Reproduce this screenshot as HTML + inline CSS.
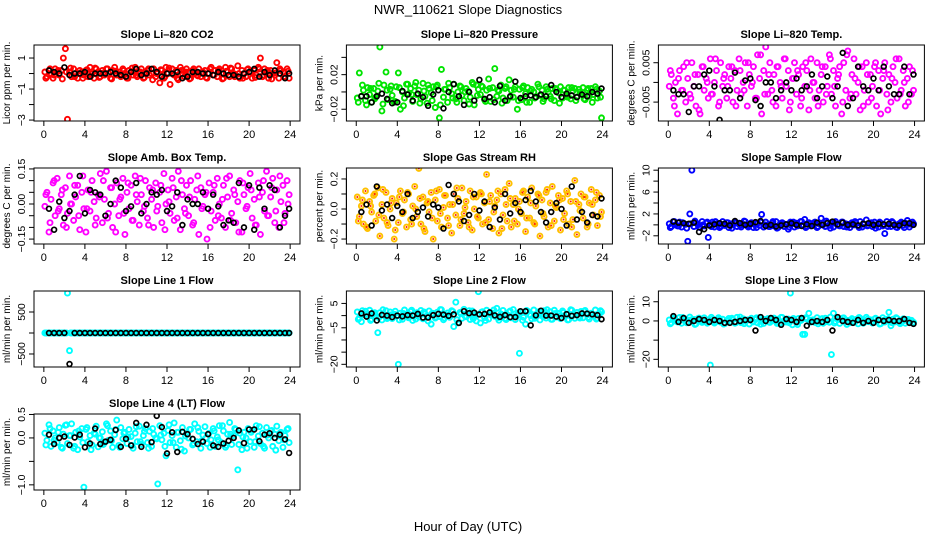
<!DOCTYPE html>
<html><head><meta charset="utf-8"><style>
html,body{margin:0;padding:0;background:#fff}
svg{display:block;font-family:"Liberation Sans",sans-serif}
</style></head><body>
<svg id="c" width="936" height="540" viewBox="0 0 936 540">
<text x="468" y="14" text-anchor="middle" font-size="13">NWR_110621  Slope Diagnostics</text>
<text x="468" y="531" text-anchor="middle" font-size="13">Hour of Day (UTC)</text>
</svg>
<script>
const hours=[0.1,0.3,0.5,0.7,0.9,1.1,1.3,1.5,1.7,1.9,2.1,2.3,2.5,2.7,2.9,3.1,3.3,3.5,3.7,3.9,4.1,4.3,4.5,4.7,4.9,5.1,5.3,5.5,5.7,5.9,6.1,6.3,6.5,6.7,6.9,7.1,7.3,7.5,7.7,7.9,8.1,8.3,8.5,8.7,8.9,9.1,9.3,9.5,9.7,9.9,10.1,10.3,10.5,10.7,10.9,11.1,11.3,11.5,11.7,11.9,12.1,12.3,12.5,12.7,12.9,13.1,13.3,13.5,13.7,13.9,14.1,14.3,14.5,14.7,14.9,15.1,15.3,15.5,15.7,15.9,16.1,16.3,16.5,16.7,16.9,17.1,17.3,17.5,17.7,17.9,18.1,18.3,18.5,18.7,18.9,19.1,19.3,19.5,19.7,19.9,20.1,20.3,20.5,20.7,20.9,21.1,21.3,21.5,21.7,21.9,22.1,22.3,22.5,22.7,22.9,23.1,23.3,23.5,23.7,23.9];
const hours2=[0.2,0.6,1.0,1.4,1.8,2.2,2.6,3.0,3.4,3.8,4.2,4.6,5.0,5.4,5.8,6.2,6.6,7.0,7.4,7.8,8.2,8.6,9.0,9.4,9.8,10.2,10.6,11.0,11.4,11.8,12.2,12.6,13.0,13.4,13.8,14.2,14.6,15.0,15.4,15.8,16.2,16.6,17.0,17.4,17.8,18.2,18.6,19.0,19.4,19.8,20.2,20.6,21.0,21.4,21.8,22.2,22.6,23.0,23.4,23.8];
const blackHours=[0.5,1.0,1.5,2.0,2.5,3.0,3.5,4.0,4.5,5.0,5.5,6.0,6.5,7.0,7.5,8.0,8.5,9.0,9.5,10.0,10.5,11.0,11.5,12.0,12.5,13.0,13.5,14.0,14.5,15.0,15.5,16.0,16.5,17.0,17.5,18.0,18.5,19.0,19.5,20.0,20.5,21.0,21.5,22.0,22.5,23.0,23.5,23.9];
const xTicks=[0,4,8,12,16,20,24];

const co2=[0.1,-0.2,0.2,0.0,-0.3,0.3,0.1,-0.1,0.2,1.0,1.6,-2.95,0.1,-0.2,0.3,0.0,-0.3,0.2,0.1,-0.1,0.2,-0.2,0.4,0.0,-0.3,0.3,0.1,-0.2,0.2,-0.1,0.3,0.0,-0.3,0.2,0.4,-0.1,0.1,-0.2,0.3,0.0,-0.3,0.2,0.1,-0.1,0.4,-0.2,0.0,0.3,-0.3,0.1,0.2,-0.1,0.0,0.3,-0.2,0.1,-0.6,0.2,-0.3,0.4,0.0,-0.7,0.3,-0.1,0.2,-0.4,0.4,0.0,-0.2,0.3,0.1,-0.3,0.2,0.0,-0.1,0.3,-0.2,0.1,0.2,-0.3,0.0,0.4,-0.1,0.2,-0.2,0.3,0.0,-0.3,0.4,0.1,-0.2,0.3,0.0,-0.1,0.5,-0.3,0.2,0.0,-0.2,0.3,0.1,-0.3,0.2,-0.1,0.4,1.0,-0.2,0.3,0.1,-0.3,0.2,0.0,-0.1,0.7,-0.3,0.2,0.1,-0.2,0.3,-0.3];
const co2b=[-0.3,0.3,-0.1,0.2,-0.35,0.1,0.35,-0.2,0.0,-0.3,0.25,-0.15,0.35,-0.25,0.05,0.3,-0.35,0.15,-0.05,0.2,-0.3,0.35,-0.1,0.1,-0.25,0.3,-0.4,0.0,0.25,-0.2,0.35,-0.05,-0.3,0.2,0.1,-0.35,0.3,-0.15,0.05,-0.25,0.3,-0.1,0.2,-0.35,0.15,0.35,-0.2,0.0,-0.3,0.25,0.1,-0.25,0.3,-0.1,0.2,-0.35,0.05,0.3,-0.2,0.15];
const co2Black=[0.2,0.1,0.0,0.4,-0.1,0.0,0.0,0.1,-0.2,0.0,0.0,0.0,0.1,0.0,-0.1,-0.2,0.1,0.3,-0.1,0.0,0.3,0.1,-0.2,0.0,0.0,0.1,-0.3,-0.2,0.1,0.1,0.0,0.0,-0.1,0.1,0.0,-0.1,-0.1,-0.2,0.0,0.1,0.3,-0.2,0.1,-0.1,0.2,0.0,-0.3,0.0];
const pres=[-0.007,0.022,-0.005,0.002,-0.01,0.005,-0.003,-0.012,0.004,-0.006,0.001,0.052,-0.022,0.008,0.023,-0.009,0.003,-0.004,-0.012,0.006,0.022,-0.02,0.0,-0.007,0.009,-0.002,0.004,-0.011,0.007,-0.003,0.002,-0.008,0.01,-0.005,-0.013,0.004,-0.001,0.006,-0.018,0.008,-0.03,0.026,-0.006,0.003,-0.012,0.005,-0.002,0.009,-0.008,0.0,0.007,-0.004,-0.01,0.004,0.001,-0.006,0.011,-0.015,0.008,0.003,-0.003,0.006,-0.009,0.002,0.015,-0.011,0.005,0.027,-0.005,0.001,0.008,-0.007,0.004,-0.01,0.014,0.002,-0.006,0.006,-0.02,0.003,-0.009,0.007,-0.002,0.005,-0.012,0.003,0.0,-0.006,0.009,-0.004,0.002,-0.008,0.006,0.0,-0.005,0.004,-0.01,0.003,-0.001,0.006,-0.007,0.002,-0.004,0.005,-0.008,0.001,0.004,-0.006,0.003,-0.002,0.005,-0.009,0.002,-0.005,0.004,-0.003,0.006,-0.007,0.001,-0.03];
const presb=[-0.012,0.008,-0.015,0.004,-0.008,0.01,-0.014,0.002,0.007,-0.011,0.005,-0.016,0.009,-0.003,0.011,-0.013,0.001,0.008,-0.01,0.006,-0.015,0.003,0.01,-0.007,-0.012,0.006,0.0,-0.014,0.009,-0.004,0.007,-0.011,0.004,-0.009,0.002,-0.013,0.006,-0.006,0.003,-0.01,0.005,-0.012,0.001,-0.007,0.006,-0.011,0.003,-0.008,0.004,-0.013,0.002,-0.006,0.005,-0.01,0.0,-0.008,0.004,-0.012,0.003,-0.006];
const presBlack=[-0.005,-0.005,-0.012,-0.005,-0.002,-0.008,-0.013,-0.012,0.001,-0.003,-0.01,-0.002,-0.006,-0.016,-0.003,0.002,-0.019,0.0,0.009,-0.005,-0.015,0.0,-0.01,0.014,-0.008,-0.006,-0.012,0.007,-0.01,-0.005,0.012,-0.007,-0.005,-0.004,-0.006,-0.003,-0.005,0.008,0.0,-0.006,-0.002,-0.004,-0.006,-0.003,-0.005,0.0,-0.002,0.004];
const ltemp=[-0.001,0.002,-0.004,0.0,-0.008,0.003,-0.002,0.004,-0.005,0.001,-0.003,0.005,-0.001,-0.006,0.002,-0.008,0.004,-0.002,0.001,-0.004,0.006,-0.003,0.0,0.003,-0.006,0.005,-0.001,0.002,-0.004,0.004,0.001,-0.005,0.003,-0.002,0.006,-0.003,0.0,0.005,-0.006,0.002,-0.001,0.004,-0.004,0.007,0.001,-0.008,0.003,0.009,-0.003,0.005,-0.002,0.002,-0.006,0.004,0.0,-0.004,0.006,-0.001,0.003,-0.005,0.001,0.005,-0.003,0.002,-0.006,0.004,-0.001,0.003,-0.007,0.006,0.0,-0.004,0.005,-0.002,0.002,-0.005,0.004,-0.001,0.007,-0.003,0.003,-0.006,0.001,0.004,-0.008,0.005,-0.002,0.008,-0.004,0.002,0.006,-0.003,0.0,-0.007,0.004,-0.002,0.005,-0.005,0.002,-0.001,0.004,-0.006,0.003,-0.008,0.001,0.005,-0.003,0.002,-0.005,0.004,0.0,-0.004,0.006,-0.002,0.003,-0.006,0.001,0.004,-0.003,-0.002];
const ltempb=[0.003,-0.006,0.001,-0.002,0.005,-0.004,0.002,-0.007,0.004,0.0,-0.003,0.006,-0.005,0.001,-0.001,0.004,-0.006,0.003,-0.002,0.005,0.0,-0.004,0.007,-0.003,0.002,-0.005,0.004,-0.001,0.006,-0.007,0.001,0.003,-0.004,0.005,-0.002,0.0,-0.006,0.004,-0.003,0.006,-0.001,0.002,-0.005,0.007,-0.003,0.001,0.004,-0.006,0.002,-0.004,0.005,-0.002,0.003,-0.007,0.001,0.006,-0.003,0.0,-0.005,0.003];
const ltempBlack=[-0.002,-0.003,-0.003,-0.0075,-0.001,-0.001,0.002,0.003,-0.001,-0.0095,-0.002,-0.002,0.0025,-0.004,0.0005,0.001,-0.0045,-0.006,0.0,0.0,-0.004,-0.002,0.0,-0.002,0.001,-0.002,-0.001,0.002,-0.004,-0.001,0.0015,-0.004,-0.001,0.0075,-0.006,-0.004,0.004,-0.001,-0.002,0.001,-0.002,0.004,-0.001,-0.003,-0.003,0.004,-0.003,0.002];
const amb=[-0.01,0.05,-0.12,0.02,0.09,-0.05,0.11,-0.02,0.04,-0.09,0.07,-0.04,0.12,0.0,-0.07,0.03,0.08,-0.11,0.05,-0.02,-0.12,0.06,-0.03,0.1,0.01,-0.06,0.04,0.13,-0.08,0.02,0.14,-0.04,0.07,-0.1,0.0,0.09,-0.05,0.03,0.11,-0.13,0.05,-0.02,0.08,-0.07,0.12,0.01,-0.09,0.04,-0.03,0.1,-0.06,0.07,0.02,-0.1,0.09,-0.01,0.05,-0.08,0.13,0.0,0.06,-0.04,0.11,-0.07,0.03,0.14,-0.11,0.04,-0.02,0.08,-0.05,0.1,-0.09,0.02,0.06,-0.13,0.07,-0.01,0.04,-0.15,0.09,-0.03,0.05,-0.07,0.11,0.0,-0.06,0.08,-0.1,0.03,0.12,-0.04,0.06,-0.08,0.01,0.1,-0.12,0.04,-0.02,0.07,0.13,-0.06,0.02,-0.09,0.09,-0.13,0.05,-0.03,0.14,-0.05,0.03,0.11,-0.08,0.06,-0.1,0.01,0.08,-0.04,0.1,0.04];
const ambb=[0.04,-0.08,0.1,-0.03,0.06,-0.1,0.0,0.08,-0.05,0.12,-0.02,0.05,-0.09,0.03,0.1,-0.06,0.07,-0.12,0.02,-0.04,0.09,-0.07,0.04,0.11,-0.01,-0.09,0.06,-0.03,0.08,-0.11,0.01,0.07,-0.06,0.1,-0.04,0.03,-0.08,0.12,-0.02,0.05,-0.1,0.08,-0.05,0.02,0.11,-0.07,0.04,-0.12,0.09,-0.01,0.06,-0.09,0.03,0.1,-0.05,0.07,-0.03,0.12,-0.08,0.0];
const ambBlack=[-0.02,-0.11,0.01,-0.06,-0.03,0.04,0.12,-0.04,0.06,0.05,0.04,-0.05,0.0,0.1,0.07,-0.03,-0.01,0.09,-0.04,0.0,0.05,0.04,0.06,-0.03,-0.01,0.05,-0.09,0.02,0.0,0.0,0.05,-0.02,0.04,-0.01,-0.09,-0.07,-0.08,0.09,-0.1,0.08,-0.11,0.07,-0.02,0.08,0.06,-0.1,-0.05,-0.02];
const rh=[0.08,-0.05,0.02,-0.1,0.12,-0.13,0.05,-0.02,0.09,-0.08,0.14,-0.18,0.03,-0.06,0.11,-0.11,0.0,0.07,-0.2,0.04,-0.09,0.12,-0.03,0.06,-0.12,0.1,-0.07,0.02,0.15,-0.05,0.27,-0.1,0.08,-0.15,0.04,-0.02,0.11,-0.2,0.06,-0.08,0.13,-0.12,0.01,0.09,-0.06,0.03,-0.16,0.1,-0.04,0.07,-0.11,0.14,-0.03,0.05,-0.09,0.12,-0.14,0.0,0.08,-0.06,0.11,-0.1,0.04,0.23,-0.07,0.09,-0.13,0.02,0.06,-0.16,0.1,-0.04,0.13,-0.08,0.17,-0.12,0.03,0.07,-0.1,0.05,-0.03,0.12,-0.15,0.08,-0.06,0.14,-0.09,0.02,0.1,-0.18,0.06,-0.05,0.11,-0.12,0.04,0.15,-0.08,0.01,0.09,-0.14,0.07,-0.03,0.12,-0.1,0.05,-0.07,0.19,-0.17,0.03,0.1,-0.06,0.08,-0.12,0.04,0.13,-0.04,0.06,-0.11,0.09,-0.02];
const rhb=[-0.08,0.06,-0.12,0.02,0.1,-0.04,0.13,-0.09,0.04,-0.14,0.08,-0.02,0.11,-0.1,0.0,0.07,-0.13,0.05,-0.06,0.12,-0.03,0.09,-0.11,0.03,0.14,-0.07,0.01,-0.12,0.08,-0.05,0.1,-0.09,0.05,-0.02,0.12,-0.13,0.03,0.07,-0.08,0.0,0.11,-0.06,0.04,-0.1,0.09,-0.03,0.13,-0.11,0.02,0.06,-0.07,0.1,-0.12,0.05,-0.01,0.08,-0.1,0.03,0.11,-0.05];
const rhBlack=[-0.02,0.03,-0.11,0.15,-0.01,0.03,-0.06,0.02,-0.02,0.1,-0.06,-0.02,0.01,-0.05,0.03,0.01,-0.13,0.16,0.1,0.05,-0.08,-0.04,0.1,-0.01,0.05,-0.12,0.01,-0.07,0.1,-0.03,0.04,-0.02,0.06,0.12,0.05,-0.02,-0.09,-0.02,0.04,0.0,-0.11,0.15,-0.07,-0.02,-0.09,-0.04,-0.05,0.07];
const sflow=[0.2,-0.3,0.6,0.0,-0.2,0.5,-0.4,0.3,0.1,-3.0,2.0,10.0,-0.3,0.4,0.0,-0.5,0.6,-0.2,0.3,-2.3,0.1,0.5,-0.4,0.2,0.0,-0.3,0.6,-0.1,0.4,-0.5,0.2,0.0,0.5,-0.3,0.3,-0.4,0.1,0.6,-0.2,0.0,0.4,-0.5,0.2,0.3,-0.1,1.9,-0.4,0.5,0.0,-0.3,0.3,-0.2,0.6,-0.5,0.1,0.4,-0.3,0.0,-0.8,0.5,0.2,-0.4,0.3,-0.1,0.6,0.0,1.0,-0.3,0.4,-0.2,0.1,0.5,-0.5,0.2,1.2,0.0,-0.3,0.4,-0.1,0.3,-0.4,0.6,0.0,-0.2,0.5,-0.3,0.2,0.1,-0.5,0.4,0.0,0.3,-0.2,0.6,-0.4,0.1,0.9,-0.1,0.2,-0.3,0.5,0.0,-0.4,0.3,-0.2,-1.6,0.6,0.1,-0.3,0.4,0.0,-0.5,0.2,0.5,-0.1,0.3,0.8,-0.4,0.1,0.2];
const sflowb=[-0.5,0.6,-0.2,0.4,-0.6,0.2,0.7,-0.4,0.0,0.5,-0.3,0.6,-0.5,0.1,0.4,-0.6,0.3,-0.1,0.7,-0.4,0.2,-0.5,0.5,0.0,-0.3,0.6,-0.6,0.3,0.1,-0.4,0.5,-0.2,0.6,-0.5,0.2,0.4,-0.3,0.0,0.7,-0.6,0.3,-0.1,0.5,-0.4,0.1,0.6,-0.5,0.2,-0.2,0.4,-0.6,0.5,0.0,-0.3,0.6,-0.4,0.3,-0.5,0.1,0.5];
const sflowBlack=[0.6,0.4,0.3,0.2,0.4,-1.3,-0.8,-0.1,0.1,0.3,0.2,-0.1,0.7,0.3,0.0,0.2,0.5,0.7,-0.2,0.0,-0.3,-0.1,0.1,0.3,0.0,-0.2,0.1,-0.2,0.4,0.0,0.3,0.6,0.1,0.4,0.0,0.1,-0.1,0.2,0.3,0.0,0.2,0.1,0.2,0.0,-0.1,0.3,0.3,0.0];
const line1=[0,0,0,0,0,0,0,0,0,0,0,950,-420,0,0,0,0,0,0,0,0,0,0,0,0,0,0,0,0,0,0,0,0,0,0,0,0,0,0,0,0,0,0,0,0,0,0,0,0,0,0,0,0,0,0,0,0,0,0,0,0,0,0,0,0,0,0,0,0,0,0,0,0,0,0,0,0,0,0,0,0,0,0,0,0,0,0,0,0,0,0,0,0,0,0,0,0,0,0,0,0,0,0,0,0,0,0,0,0,0,0,0,0,0,0,0,0,0,0,0];
const line1b=[0,0,0,0,0,0,0,0,0,0,0,0,0,0,0,0,0,0,0,0,0,0,0,0,0,0,0,0,0,0,0,0,0,0,0,0,0,0,0,0,0,0,0,0,0,0,0,0,0,0,0,0,0,0,0,0,0,0,0,0];
const line1Black=[0,0,0,0,-740,0,0,0,0,0,0,0,0,0,0,0,0,0,0,0,0,0,0,0,0,0,0,0,0,0,0,0,0,0,0,0,0,0,0,0,0,0,0,0,0,0,0,0];
const line2=[1.5,-1.0,-2.5,0.5,1.8,-0.5,2.2,-1.5,0.8,-0.2,-7.0,1.2,-1.8,0.3,2.0,-0.8,1.5,-1.2,0.6,-0.3,-20.0,1.0,-1.5,2.3,0.0,-0.9,1.7,-2.0,0.4,1.2,-0.6,2.1,-1.3,0.7,-0.2,1.9,-3.5,0.9,-1.0,1.4,-0.4,2.4,-1.7,0.2,1.1,-0.7,2.0,-4.5,5.5,-3.0,1.3,-1.1,2.6,-0.5,0.8,-1.6,1.9,0.1,-2.2,9.8,-3.0,1.6,-0.8,2.2,-1.4,0.5,1.0,-0.3,3.0,-1.9,0.7,2.1,-1.2,0.3,1.5,-0.9,2.5,-1.6,0.0,-15.5,1.4,-0.7,-3.5,1.8,0.2,-1.3,2.3,-0.4,1.0,-1.8,0.6,2.0,-1.0,0.3,1.6,-1.5,2.2,-0.6,0.9,-1.2,1.9,-0.2,0.5,-1.7,2.4,0.0,-1.1,1.3,-0.5,1.7,-0.9,2.1,0.4,-1.4,1.0,-0.3,2.3,-1.0,0.7,1.5];
const line2b=[-1.5,2.0,0.5,-2.0,1.2,-0.8,2.4,-1.2,0.3,1.8,-1.8,0.9,-0.3,2.2,-1.4,0.6,1.5,-2.2,1.0,-0.6,2.5,-1.0,0.2,1.7,-1.7,0.8,-0.2,2.0,-1.3,0.4,1.4,-2.0,0.7,2.3,-0.9,0.1,-1.6,1.9,-0.4,1.1,-1.9,2.1,0.0,-1.1,1.6,-0.5,2.4,-1.5,0.9,-0.2,1.3,-1.8,2.2,0.3,-1.0,1.8,-0.7,0.6,-1.4,2.0];
const line2Black=[0.9,-0.4,0.9,-2.0,0.3,0.0,-0.6,0.0,-0.3,0.2,0.0,0.7,-0.8,-0.8,0.2,0.7,0.4,-0.1,0.5,-3.0,1.8,1.0,1.2,0.5,0.7,1.3,0.1,-0.5,0.2,-0.6,-0.6,1.8,1.8,-4.0,0.1,2.0,0.0,0.0,-0.4,-1.0,0.6,-0.1,0.2,0.9,0.8,0.5,0.2,-1.5];
const line3=[0.5,-1.0,1.5,0.0,-0.5,1.8,-1.2,0.3,1.0,-0.7,2.0,-0.2,0.8,-1.5,1.2,0.1,-0.8,1.6,-0.3,0.6,-23.0,1.0,-1.1,0.4,1.7,-0.6,0.9,-1.4,0.2,1.3,-0.4,0.7,-1.2,1.9,0.0,-0.9,1.1,-0.2,0.5,-1.6,1.4,-0.5,0.8,-1.0,1.6,0.3,-1.3,0.6,1.2,-0.8,0.2,1.5,-0.3,0.9,-1.1,1.8,0.0,-0.6,1.0,14.5,-2.0,0.4,-0.9,1.3,0.2,-7.0,-7.0,1.1,4.0,0.3,0.6,-0.8,1.7,-0.4,0.9,-1.2,1.4,0.1,-0.7,-17.5,4.0,-0.2,1.0,-1.3,0.5,1.6,-0.6,0.3,-1.0,1.2,-0.3,0.8,-1.5,1.4,0.0,-0.8,1.9,-0.4,0.6,-1.1,1.0,-0.2,0.5,-1.4,1.7,-0.6,0.2,4.5,-2.5,0.9,-0.5,1.3,-0.9,0.4,1.1,-1.2,0.7,-0.1,0.3,-0.7];
const line3b=[-1.5,1.2,-0.3,1.8,-1.0,0.6,-1.8,1.5,0.0,-1.2,1.9,-0.6,0.9,-1.6,0.3,1.4,-0.9,2.0,-1.4,0.5,-0.2,1.6,-1.7,0.8,-0.5,1.1,-1.3,1.9,0.2,-1.0,1.3,-1.9,0.6,1.7,-0.7,0.0,-1.5,1.2,-0.4,2.0,-1.1,0.7,1.5,-1.8,0.3,-0.6,1.8,-1.2,0.9,-0.3,1.4,-1.6,0.4,1.0,-0.9,1.7,-1.4,0.2,0.8,-1.1];
const line3Black=[2.5,-0.5,1.5,-1.0,0.0,1.0,0.5,-0.5,0.5,0.0,-1.0,-1.0,-0.5,0.0,0.5,0.5,-5.0,2.0,0.0,1.5,0.5,-2.0,1.0,0.5,-0.5,1.5,-2.5,-0.5,0.0,-0.5,0.5,-5.0,2.0,0.0,-0.5,-1.0,0.5,-1.0,0.0,-1.0,0.5,0.0,0.5,0.0,0.0,1.0,-1.0,-1.5];
const line4=[0.1,-0.05,0.28,-0.18,0.15,0.0,-0.1,0.22,-0.2,0.08,0.27,-0.12,0.05,0.3,-0.22,0.12,-0.25,0.02,0.2,-1.05,0.18,-0.08,0.05,-0.15,0.1,0.25,-0.19,0.0,0.13,-0.1,0.3,-0.05,0.15,-0.2,0.07,0.38,-0.16,0.22,-0.02,0.12,-0.12,0.18,0.03,-0.22,0.1,-0.08,0.25,-0.14,0.05,0.2,-0.1,0.14,-0.18,0.08,0.0,-0.98,0.26,-0.04,0.1,-0.38,0.16,-0.1,0.05,0.32,-0.2,0.12,-0.06,0.22,-0.28,0.09,0.0,0.18,-0.15,0.3,-0.08,0.14,-0.22,0.06,0.24,-0.12,0.1,-0.04,0.2,-0.18,0.02,0.26,-0.1,0.15,-0.2,0.08,0.33,-0.14,0.05,0.18,-0.68,0.1,-0.25,0.12,0.0,0.2,-0.08,0.16,-0.2,0.26,0.04,-0.12,0.1,-0.22,0.22,0.0,0.15,-0.18,0.08,0.25,-0.06,0.12,-0.2,0.05,0.18,-0.1];
const line4b=[-0.15,0.2,-0.05,0.12,-0.22,0.28,0.05,-0.18,0.15,-0.1,0.22,-0.25,0.08,0.0,-0.14,0.26,-0.06,0.18,-0.2,0.1,0.02,-0.16,0.24,-0.08,0.14,-0.22,0.2,-0.02,0.06,-0.18,0.28,-0.1,0.12,-0.24,0.04,0.18,-0.12,0.22,-0.06,0.0,-0.2,0.15,-0.04,0.26,-0.16,0.08,0.2,-0.14,0.02,-0.22,0.12,-0.08,0.24,-0.18,0.06,0.16,-0.26,0.1,-0.04,0.2];
const line4Black=[0.07,-0.13,0.0,0.03,-0.15,0.01,0.07,-0.2,-0.12,0.2,-0.13,-0.08,-0.04,0.17,-0.19,-0.02,-0.16,0.32,-0.19,0.28,-0.09,0.47,0.23,-0.33,0.12,-0.3,0.13,0.08,-0.02,-0.13,-0.08,0.08,-0.16,-0.19,-0.12,-0.06,0.0,0.16,-0.11,0.18,0.18,-0.07,0.07,0.1,0.0,0.07,-0.03,-0.32];

const panels=[
 {id:'co2',title:'Slope Li\u2013820 CO2',yl:'Licor ppm per min.',col:0,row:0,y0:-3.06,y1:1.84,ticks:[1,0,-1,-2,-3],labels:['1','','\u22121','','\u22123'],c:'#ff0000',d:co2,d2:co2b,b:co2Black},
 {id:'pressure',title:'Slope Li\u2013820 Pressure',yl:'kPa per min.',col:1,row:0,y0:-0.0336,y1:0.0543,ticks:[0.04,0.02,0,-0.02],labels:['','0.02','','\u22120.02'],c:'#00e400',d:pres,d2:presb,b:presBlack},
 {id:'li820-temp',title:'Slope Li\u2013820 Temp.',yl:'degrees C per min.',col:2,row:0,y0:-0.0098,y1:0.0095,ticks:[0.005,0,-0.005],labels:['0.005','','\u22120.005'],c:'#ff00ff',d:ltemp,d2:ltempb,b:ltempBlack},
 {id:'amb-box-temp',title:'Slope Amb. Box Temp.',yl:'degrees C per min.',col:0,row:1,y0:-0.171,y1:0.154,ticks:[0.15,0.1,0.05,0,-0.05,-0.1,-0.15],labels:['0.15','','','0.00','','','\u22120.15'],c:'#ff00ff',d:amb,d2:ambb,b:ambBlack},
 {id:'gas-stream-rh',title:'Slope Gas Stream RH',yl:'percent per min.',col:1,row:1,y0:-0.233,y1:0.273,ticks:[0.2,0.1,0,-0.1,-0.2],labels:['0.2','','0.0','','\u22120.2'],c:'#ffc000',d:rh,d2:rhb,b:rhBlack,inner:'#ff2000'},
 {id:'sample-flow',title:'Slope Sample Flow',yl:'ml/min per min.',col:2,row:1,y0:-3.5,y1:10.4,ticks:[10,8,6,4,2,0,-2],labels:['10','','6','','2','','\u22122'],c:'#0000ff',d:sflow,d2:sflowb,b:sflowBlack},
 {id:'line1-flow',title:'Slope Line 1 Flow',yl:'ml/min per min.',col:0,row:2,y0:-810,y1:1000,ticks:[500,0,-500],labels:['500','','\u2212500'],c:'#00ffff',d:line1,d2:line1b,b:line1Black},
 {id:'line2-flow',title:'Slope Line 2 Flow',yl:'ml/min per min.',col:1,row:2,y0:-21.1,y1:10.1,ticks:[5,0,-5,-10,-15,-20],labels:['5','','\u22125','','','\u221220'],c:'#00ffff',d:line2,d2:line2b,b:line2Black},
 {id:'line3-flow',title:'Slope Line 3 Flow',yl:'ml/min per min.',col:2,row:2,y0:-24,y1:15.6,ticks:[10,0,-10,-20],labels:['10','0','','\u221220'],c:'#00ffff',d:line3,d2:line3b,b:line3Black},
 {id:'line4-flow',title:'Slope Line 4 (LT) Flow',yl:'ml/min per min.',col:0,row:3,y0:-1.11,y1:0.51,ticks:[0.5,0,-0.5,-1],labels:['0.5','0.0','','\u22121.0'],c:'#00ffff',d:line4,d2:line4b,b:line4Black}
];
const colLeft=[34,346.4,658.4], W=266, rowTop=[45,168,291,414], H=76;
const NS='http://www.w3.org/2000/svg';
const svg=document.getElementById('c');
function mk(tag,attrs,parent){const e=document.createElementNS(NS,tag);for(const k in attrs)e.setAttribute(k,attrs[k]);parent.appendChild(e);return e;}

panels.forEach(p=>{
  const L=colLeft[p.col],T=rowTop[p.row];
  const xs=h=>L+(h+0.96)/25.92*W;
  const ys=v=>T+(p.y1-v)/(p.y1-p.y0)*H;
  const g=mk('g',{},svg);
  
  
  const t=mk('text',{x:L+W/2,y:T-7,'text-anchor':'middle','font-size':11,'font-weight':'bold'},g);
  
  
  t.textContent=p.title;
  const clip=mk('clipPath',{id:'cl-'+p.id},g);
  mk('rect',{x:L,y:T,width:W,height:H},clip);
  const pts=mk('g',{'clip-path':'url(#cl-'+p.id+')'},g);
  
  
  const drawColored=(hs,arr)=>arr.forEach((v,i)=>{
    const c=mk('circle',{cx:xs(hs[i]),cy:ys(v),r:2.5,fill:'none',stroke:p.c,'stroke-width':1.9},pts);
    
    
    if(p.inner){const d=mk('circle',{cx:xs(hs[i]),cy:ys(v),r:1,fill:p.inner},pts);
      
      }
  });
  drawColored(hours,p.d);
  drawColored(hours2,p.d2);
  p.b.forEach((v,i)=>{
    const c=mk('circle',{cx:xs(blackHours[i]),cy:ys(v),r:2.4,fill:'none',stroke:'#000','stroke-width':1.7},pts);
    
    
  });
  const box=mk('rect',{x:L,y:T,width:W,height:H,fill:'none',stroke:'#000','stroke-width':1},g);
  
  
  const xa=mk('g',{},g);
  
  
  mk('line',{x1:xs(xTicks[0]),x2:xs(xTicks[xTicks.length-1]),y1:T+H,y2:T+H,stroke:'#000'},xa);
  xTicks.forEach(tk=>{
    mk('line',{x1:xs(tk),x2:xs(tk),y1:T+H,y2:T+H+5,stroke:'#000'},xa);
    const tx=mk('text',{x:xs(tk),y:T+H+17,'text-anchor':'middle','font-size':11},xa);
    
    
    tx.textContent=String(tk);
  });
  const ya=mk('g',{},g);
  
  
  mk('line',{x1:L,x2:L,y1:ys(p.ticks[0]),y2:ys(p.ticks[p.ticks.length-1]),stroke:'#000'},ya);
  p.ticks.forEach((tk,i)=>{
    const y=ys(tk);
    mk('line',{x1:L-5,x2:L,y1:y,y2:y,stroke:'#000'},ya);
    if(p.labels[i]){
      const tx=mk('text',{x:L-9,y:y,'text-anchor':'middle','font-size':10.5,transform:'rotate(-90 '+(L-9)+' '+y+')'},ya);
      
      
      tx.textContent=p.labels[i];
    }
  });
  const yt=mk('text',{x:L-24,y:T+H/2,'text-anchor':'middle','font-size':10,transform:'rotate(-90 '+(L-24)+' '+(T+H/2)+')'},g);
  
  
  yt.textContent=p.yl;
});
</script>
</body></html>
